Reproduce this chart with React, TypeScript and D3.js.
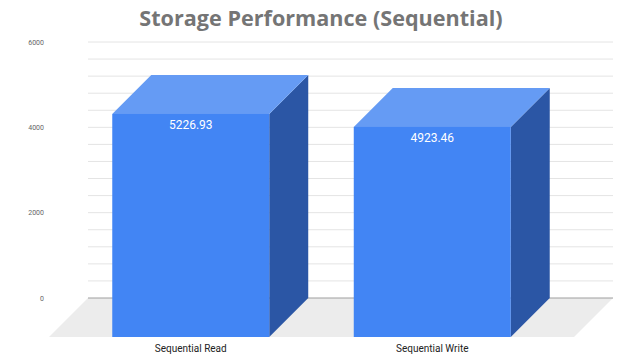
import React from 'react';
import * as d3 from 'd3';

const categories = ['Sequential Read', 'Sequential Write'];
const values = [5226.93, 4923.46];
const yTicks = [0, 2000, 4000, 6000];
const minorStep = 400;
const yMax = 6000;

const W = 640;
const H = 360;
const DEPTH = 39;

export default function App() {
  const y = d3.scaleLinear().domain([0, yMax]).range([298, 42]);
  // front plane of the bars
  const x = d3.scaleBand<string>().domain(categories).range([70, 553]).paddingInner(0.35).paddingOuter(0.175);

  const backLeft = 88;
  const backRight = 613;
  const y0 = y(0);
  const grid = d3.range(0, yMax + 1, minorStep);

  const pts = (p: number[][]) => p.map(d => d.join(',')).join(' ');

  return (
    <div style={{ position: 'absolute', left: 0, top: 0 }}>
      <svg width={W} height={H} style={{ display: 'block', background: '#fff' }}>
        <text x={321} y={26} textAnchor="middle" fontFamily="'Open Sans', sans-serif" fontWeight="bold" fontSize={21.6} fill="#757575">
          Storage Performance (Sequential)
        </text>

        {/* floor */}
        <polygon
          points={pts([[backLeft, y0], [backRight, y0], [backRight - DEPTH, y0 + DEPTH], [backLeft - DEPTH, y0 + DEPTH]])}
          fill="#ececec"
        />

        {/* back wall grid */}
        {grid.map(t => (
          <line key={t} x1={backLeft} x2={backRight} y1={y(t)} y2={y(t)}
            stroke={t === 0 ? '#9e9e9e' : '#e4e4e4'} strokeWidth={1} />
        ))}
        {yTicks.map(t => (
          <text key={t} x={44} y={y(t) + 2.5} textAnchor="end" fontFamily="Roboto, sans-serif" fontSize={7} fill="#666">
            {t}
          </text>
        ))}

        {categories.map((c, i) => {
          const xf = x(c)!;
          const w = x.bandwidth();
          const topF = y(values[i]) + DEPTH;
          const botF = y0 + DEPTH;
          return (
            <g key={c}>
              <polygon
                points={pts([[xf + w, topF], [xf + w + DEPTH, topF - DEPTH], [xf + w + DEPTH, y0], [xf + w, botF]])}
                fill="#2b56a5"
              />
              <polygon
                points={pts([[xf, topF], [xf + DEPTH, topF - DEPTH], [xf + w + DEPTH, topF - DEPTH], [xf + w, topF]])}
                fill="#659bf4"
              />
              <rect x={xf} y={topF} width={w} height={botF - topF} fill="#4285f4" />
              <text x={xf + w / 2} y={topF + 15} textAnchor="middle" fontFamily="Roboto, sans-serif" fontSize={12} fill="#fff">
                {values[i]}
              </text>
              <text x={xf + w / 2} y={352} textAnchor="middle" fontFamily="Roboto, sans-serif" fontSize={10} fill="#222">
                {c}
              </text>
            </g>
          );
        })}
      </svg>
    </div>
  );
}
